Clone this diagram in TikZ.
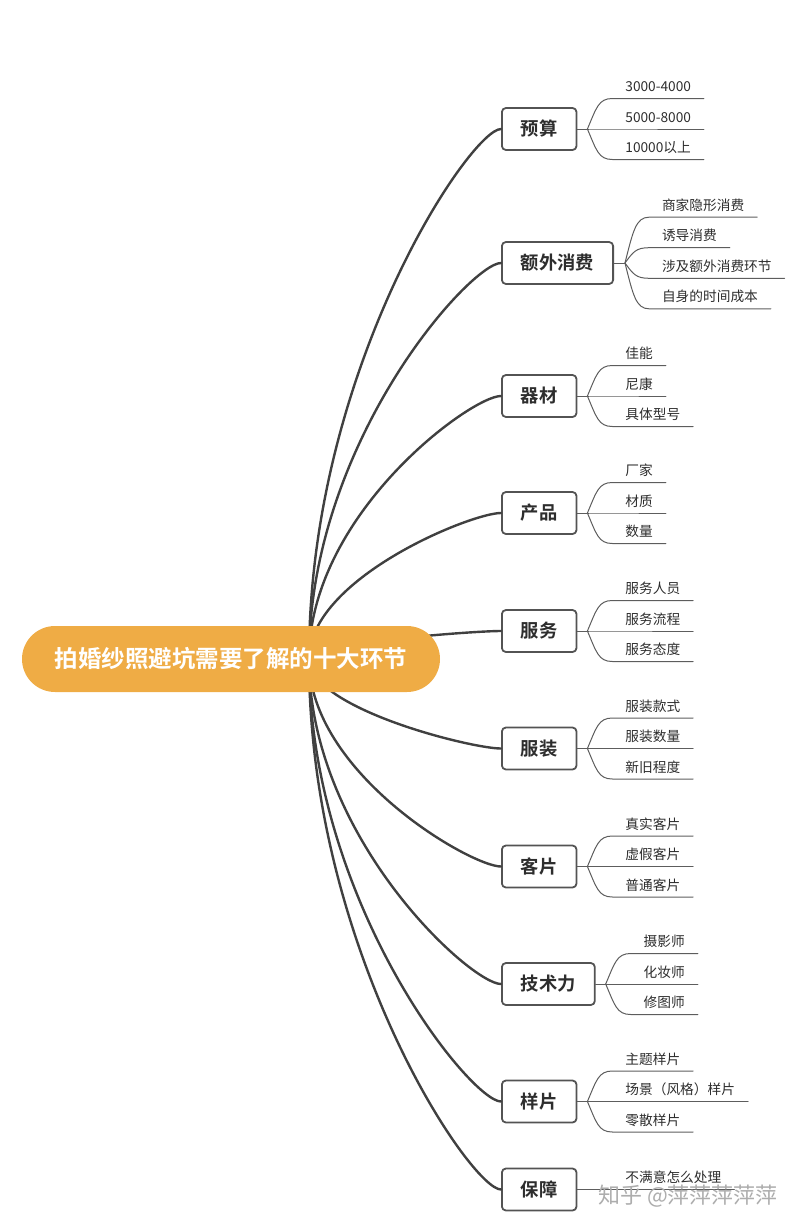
\documentclass[tikz,border=0pt]{standalone}
\usepackage{fontspec}
\setmainfont{Noto Sans CJK SC}
\newfontfamily\cjkbold{Noto Sans CJK SC Bold}
\usetikzlibrary{positioning,calc}
\definecolor{hubfill}{RGB}{239,172,69}
\definecolor{linegray}{RGB}{64,64,64}
\definecolor{textgray}{RGB}{45,45,45}
\tikzset{
  root/.style={fill=hubfill, rounded corners=33pt, minimum width=418pt, minimum height=66pt,
    text=white, font=\cjkbold\fontsize{23.5}{24}\selectfont},
  topic/.style={draw=linegray!90, line width=1.8pt, rounded corners=4pt, fill=white,
    minimum height=42pt, inner xsep=19pt, anchor=west, text=textgray,
    font=\cjkbold\fontsize{18.3}{20}\selectfont},
  leaf/.style={anchor=south west, inner xsep=13pt, inner ysep=4pt, outer sep=0pt,
    text depth=3pt, text=textgray, font=\fontsize{13.7}{15}\selectfont},
  trunk/.style={draw=linegray, line width=2.4pt},
  twig/.style={draw=linegray!85, line width=1pt},
  wmark/.style={text=black!32, font=\fontsize{22}{23}\selectfont},
}
\begin{document}
\begin{tikzpicture}[x=1pt, y=-1pt, line join=round, line cap=round]
\useasboundingbox (0,0) rectangle (805,1231);
\coordinate (hub) at (309,659);
% main topics
\node[topic] (b1) at (501,129) {预算};
\node[topic] (b2) at (501,263) {额外消费};
\node[topic] (b3) at (501,396) {器材};
\node[topic] (b4) at (501,513) {产品};
\node[topic] (b5) at (501,631) {服务};
\node[topic] (b6) at (501,748.5) {服装};
\node[topic] (b7) at (501,866.5) {客片};
\node[topic] (b8) at (501,984) {技术力};
\node[topic] (b9) at (501,1101.5) {样片};
\node[topic] (b10) at (501,1189.5) {保障};
% curves from the hub
\foreach \i in {1,...,10}{
  \path (hub |- b\i.west) coordinate (tmp);
  \draw[trunk] (hub) .. controls ($(hub)!0.55!(tmp)$) and ($(b\i.west)+(-30,0)$) .. (b\i.west);
}
\node[root] (root) at (231,659) {拍婚纱照避坑需要了解的十大环节};

% 预算
\draw[twig] (b1.east) -- ++(10,0) coordinate (f1);
\node[leaf] (l1a) at ($(f1)+(25,-30.5)$) {3000-4000};
\node[leaf] (l1b) at ($(f1)+(25,0)$) {5000-8000};
\node[leaf] (l1c) at ($(f1)+(25,30.5)$) {10000以上};
\foreach \l/\c in {l1a/-21,l1b/0,l1c/21}
  \draw[twig] (f1) .. controls +(9,\c) and +(-14,0) .. (\l.south west) -- (\l.south east);

% 额外消费
\draw[twig] (b2.east) -- ++(11,0) coordinate (f2);
\node[leaf] (l2a) at ($(f2)+(24,-45.8)$) {商家隐形消费};
\node[leaf] (l2b) at ($(f2)+(24,-15.3)$) {诱导消费};
\node[leaf] (l2c) at ($(f2)+(24,15.3)$) {涉及额外消费环节};
\node[leaf] (l2d) at ($(f2)+(24,45.8)$) {自身的时间成本};
\foreach \l/\c in {l2a/-32,l2b/-11,l2c/11,l2d/32}
  \draw[twig] (f2) .. controls +(8,\c) and +(-13,0) .. (\l.south west) -- (\l.south east);

% 器材
\draw[twig] (b3.east) -- ++(10,0) coordinate (f3);
\node[leaf] (l3a) at ($(f3)+(25,-30.5)$) {佳能};
\node[leaf] (l3b) at ($(f3)+(25,0)$) {尼康};
\node[leaf] (l3c) at ($(f3)+(25,30.5)$) {具体型号};
\foreach \l/\c in {l3a/-21,l3b/0,l3c/21}
  \draw[twig] (f3) .. controls +(9,\c) and +(-14,0) .. (\l.south west) -- (\l.south east);

% 产品
\draw[twig] (b4.east) -- ++(10,0) coordinate (f4);
\node[leaf] (l4a) at ($(f4)+(25,-30.5)$) {厂家};
\node[leaf] (l4b) at ($(f4)+(25,0)$) {材质};
\node[leaf] (l4c) at ($(f4)+(25,30.5)$) {数量};
\foreach \l/\c in {l4a/-21,l4b/0,l4c/21}
  \draw[twig] (f4) .. controls +(9,\c) and +(-14,0) .. (\l.south west) -- (\l.south east);

% 服务
\draw[twig] (b5.east) -- ++(10,0) coordinate (f5);
\node[leaf] (l5a) at ($(f5)+(25,-30.5)$) {服务人员};
\node[leaf] (l5b) at ($(f5)+(25,0)$) {服务流程};
\node[leaf] (l5c) at ($(f5)+(25,30.5)$) {服务态度};
\foreach \l/\c in {l5a/-21,l5b/0,l5c/21}
  \draw[twig] (f5) .. controls +(9,\c) and +(-14,0) .. (\l.south west) -- (\l.south east);

% 服装
\draw[twig] (b6.east) -- ++(10,0) coordinate (f6);
\node[leaf] (l6a) at ($(f6)+(25,-30.5)$) {服装款式};
\node[leaf] (l6b) at ($(f6)+(25,0)$) {服装数量};
\node[leaf] (l6c) at ($(f6)+(25,30.5)$) {新旧程度};
\foreach \l/\c in {l6a/-21,l6b/0,l6c/21}
  \draw[twig] (f6) .. controls +(9,\c) and +(-14,0) .. (\l.south west) -- (\l.south east);

% 客片
\draw[twig] (b7.east) -- ++(10,0) coordinate (f7);
\node[leaf] (l7a) at ($(f7)+(25,-30.5)$) {真实客片};
\node[leaf] (l7b) at ($(f7)+(25,0)$) {虚假客片};
\node[leaf] (l7c) at ($(f7)+(25,30.5)$) {普通客片};
\foreach \l/\c in {l7a/-21,l7b/0,l7c/21}
  \draw[twig] (f7) .. controls +(9,\c) and +(-14,0) .. (\l.south west) -- (\l.south east);

% 技术力
\draw[twig] (b8.east) -- ++(10,0) coordinate (f8);
\node[leaf] (l8a) at ($(f8)+(25,-30.5)$) {摄影师};
\node[leaf] (l8b) at ($(f8)+(25,0)$) {化妆师};
\node[leaf] (l8c) at ($(f8)+(25,30.5)$) {修图师};
\foreach \l/\c in {l8a/-21,l8b/0,l8c/21}
  \draw[twig] (f8) .. controls +(9,\c) and +(-14,0) .. (\l.south west) -- (\l.south east);

% 样片
\draw[twig] (b9.east) -- ++(10,0) coordinate (f9);
\node[leaf] (l9a) at ($(f9)+(25,-30.5)$) {主题样片};
\node[leaf] (l9b) at ($(f9)+(25,0)$) {场景（风格）样片};
\node[leaf] (l9c) at ($(f9)+(25,30.5)$) {零散样片};
\foreach \l/\c in {l9a/-21,l9b/0,l9c/21}
  \draw[twig] (f9) .. controls +(9,\c) and +(-14,0) .. (\l.south west) -- (\l.south east);

% 保障
\node[leaf] (l10a) at ($(b10.east)+(35,0)$) {不满意怎么处理};
\draw[twig] (b10.east) -- (l10a.south west) -- (l10a.south east);

\node[wmark] (zh) at (688,1196) {知乎 @萍萍萍萍萍};
\end{tikzpicture}
\end{document}
